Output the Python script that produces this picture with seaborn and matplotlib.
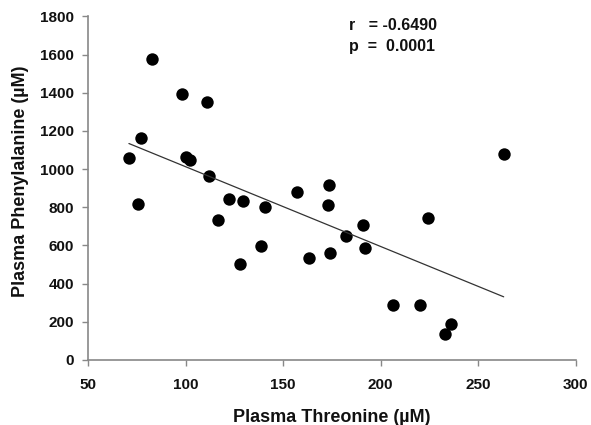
import matplotlib
matplotlib.use("Agg")
import matplotlib.pyplot as plt
import seaborn as sns
import pandas as pd

threonine = [82.9, 97.9, 111.1, 76.9, 70.9, 100.2, 102.2, 112.0, 75.7, 122.4,
             129.6, 116.6, 127.8, 138.6, 140.5, 157.2, 173.3, 172.8, 163.1, 173.8,
             182.0, 191.1, 192.0, 224.1, 206.2, 220.2, 236.1, 233.1, 263.1]
phenylalanine = [1575, 1395, 1351, 1163, 1058, 1065, 1047, 965, 816, 842,
                 833, 735, 504, 597, 802, 881, 916, 811, 535, 561,
                 647, 709, 588, 746, 288, 286, 188, 135, 1081]
x_ticks = [50, 100, 150, 200, 250, 300]
y_ticks = [0, 200, 400, 600, 800, 1000, 1200, 1400, 1600, 1800]
stats_text = "r   = -0.6490\np  =  0.0001"

df = pd.DataFrame({"thr": threonine, "phe": phenylalanine})

sns.set_theme(style="white")
plt.rcParams['font.family'] = ['Liberation Sans', 'DejaVu Sans']

fig = plt.figure(figsize=(5.91, 4.25), dpi=100)
ax = fig.add_axes([0.1492, 0.153, 0.8248, 0.8084])

sns.regplot(data=df, x="thr", y="phe", ax=ax, ci=None, truncate=True,
            scatter_kws=dict(s=80, color="black", edgecolor="black", linewidths=0, alpha=1),
            line_kws=dict(color="#333333", linewidth=0.9))

ax.set_xlim(50, 300)
ax.set_ylim(0, 1800)
ax.set_xticks(x_ticks)
ax.set_yticks(y_ticks)
ax.set_xticklabels([str(t) for t in x_ticks], fontweight="bold", fontsize=11, color="#111111")
ax.set_yticklabels([str(t) for t in y_ticks], fontweight="bold", fontsize=11, color="#111111")
ax.tick_params(axis="y", direction="out", length=4, width=1, color="#888888", pad=6,
               left=True)
ax.tick_params(axis="x", direction="out", length=4, width=1, color="#888888", pad=9,
               bottom=True)
for s in ["top", "right"]:
    ax.spines[s].set_visible(False)
for s in ["left", "bottom"]:
    ax.spines[s].set_color("#888888")
    ax.spines[s].set_linewidth(1.2)

ax.set_xlabel("Plasma Threonine (µM)", fontweight="bold", fontsize=13, color="#111111", labelpad=12)
ax.set_ylabel("Plasma Phenylalanine (µM)", fontweight="bold", fontsize=13, color="#111111")
ax.yaxis.set_label_coords(-0.122, 0.52)

ax.text(0.535, 0.995, stats_text, transform=ax.transAxes, ha="left", va="top",
        fontweight="bold", fontsize=11.5, color="#111111", linespacing=1.45)

fig.savefig("out.png", dpi=100)
